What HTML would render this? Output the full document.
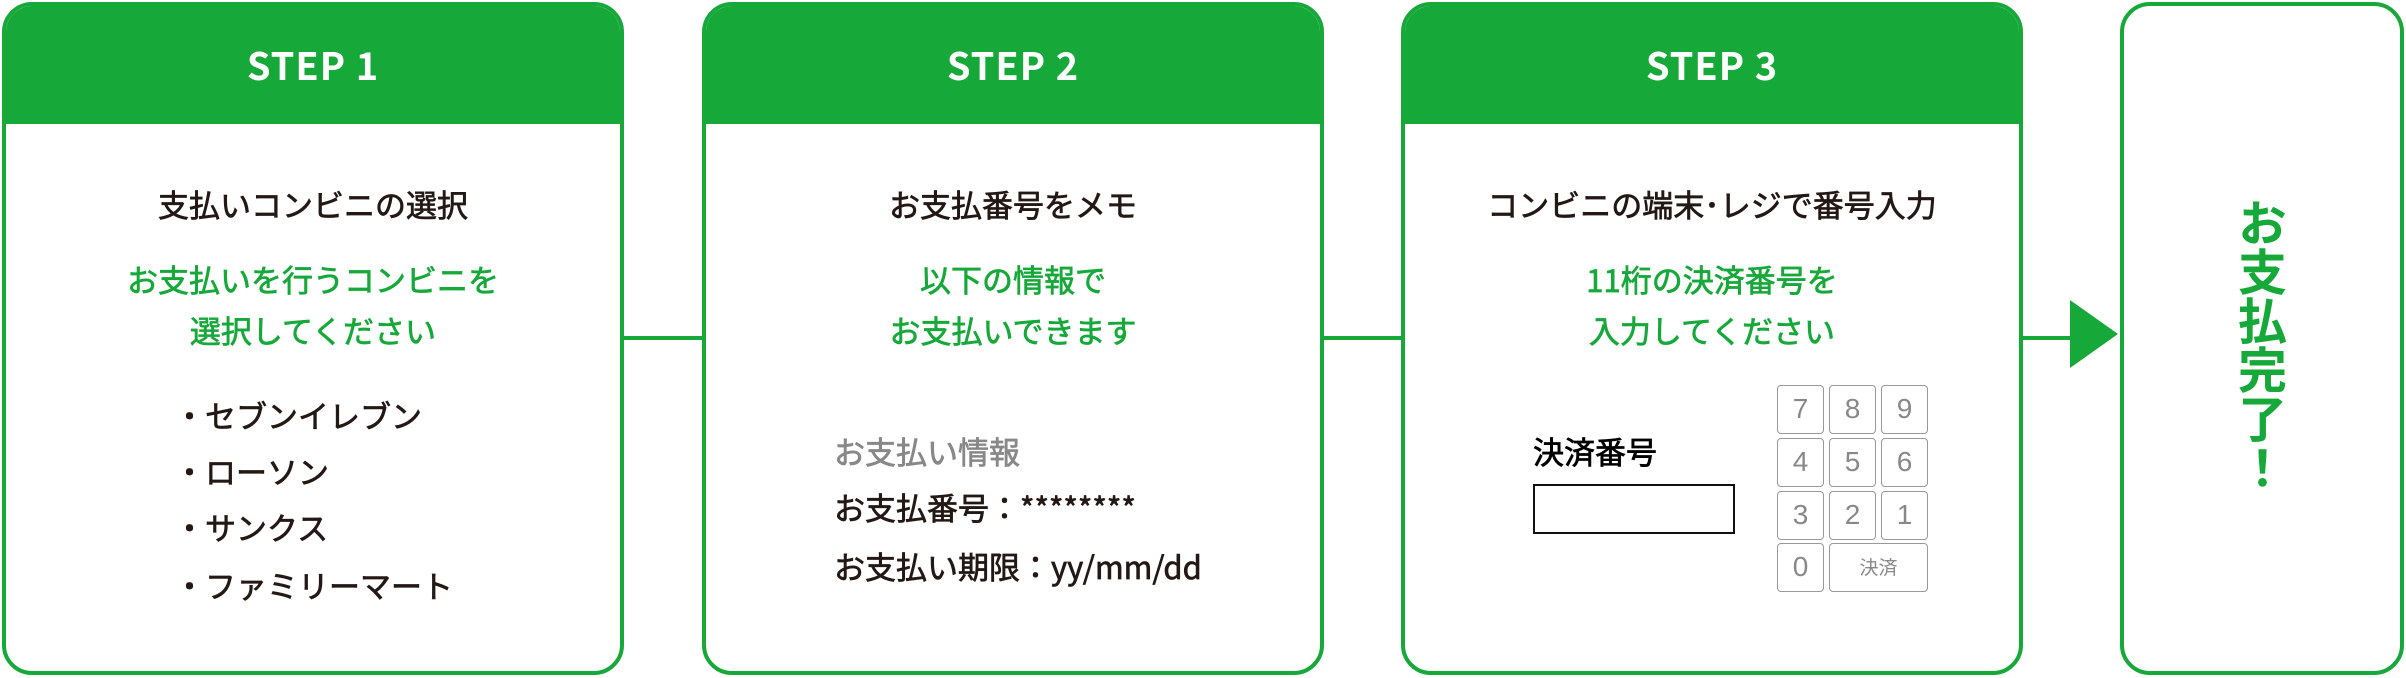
<!DOCTYPE html>
<html><head><meta charset="utf-8"><style>
*{margin:0;padding:0;box-sizing:border-box}
body{width:2406px;height:678px;background:#fff;position:relative;overflow:hidden;font-family:"Liberation Sans","Noto Sans CJK JP",sans-serif;}
.card{position:absolute;top:2px;height:673px;border:4px solid #17a83a;border-radius:30px;overflow:hidden;background:#fff}
.hd{position:absolute;left:0;right:0;top:0;height:118px;background:#17a83a;color:#fff;font-weight:bold;font-size:38px;text-align:center;line-height:116px;font-family:"Noto Sans CJK JP",sans-serif;letter-spacing:1px}
.t{position:absolute;white-space:nowrap;font-family:"Noto Sans CJK JP",sans-serif;font-size:31px;line-height:1;color:#231815;-webkit-text-stroke:0.7px currentColor}
.c{left:0;right:0;text-align:center}
.g{color:#17a83a}
.line{position:absolute;height:4px;background:#17a83a;top:336px}
.key{position:absolute;border:1.5px solid #999;border-radius:4px;background:#fff;color:#888;font-size:28px;text-align:center;font-family:"Liberation Sans",sans-serif}
</style></head><body>
<div class="line" style="left:620px;width:86px"></div>
<div class="line" style="left:1320px;width:86px"></div>
<div class="line" style="left:2019px;width:56px"></div>
<svg style="position:absolute;left:2070px;top:300px" width="52" height="70"><polygon points="0,0 48,34 0,68" fill="#17a83a"/></svg>

<div class="card" style="left:2px;width:622px">
<div class="hd">STEP 1</div>
<div class="t c" style="top:182px">支払いコンビニの選択</div>
<div class="t c g" style="top:257px">お支払いを行うコンビニを</div>
<div class="t c g" style="top:308px">選択してください</div>
<div class="t" style="left:168px;top:393px">・セブンイレブン</div>
<div class="t" style="left:168px;top:449px">・ローソン</div>
<div class="t" style="left:168px;top:505px">・サンクス</div>
<div class="t" style="left:168px;top:563px">・ファミリーマート</div>
</div>

<div class="card" style="left:702px;width:622px">
<div class="hd">STEP 2</div>
<div class="t c" style="top:182px">お支払番号をメモ</div>
<div class="t c g" style="top:257px">以下の情報で</div>
<div class="t c g" style="top:308px">お支払いできます</div>
<div class="t" style="left:128px;top:429px;color:#888">お支払い情報</div>
<div class="t" style="left:128px;top:485px">お支払番号：********</div>
<div class="t" style="left:128px;top:544px">お支払い期限：yy/mm/dd</div>
</div>

<div class="card" style="left:1401px;width:622px">
<div class="hd">STEP 3</div>
<div class="t c" style="top:182px">コンビニの端末･レジで番号入力</div>
<div class="t c g" style="top:257px">11桁の決済番号を</div>
<div class="t c g" style="top:308px">入力してください</div>
<div class="t" style="left:128px;top:429px;color:#000">決済番号</div>
<div style="position:absolute;left:128px;top:478px;width:202px;height:50px;border:2px solid #111"></div>
<div class="key" style="left:372px;top:379px;width:47px;height:49px;line-height:46px">7</div>
<div class="key" style="left:424px;top:379px;width:47px;height:49px;line-height:46px">8</div>
<div class="key" style="left:476px;top:379px;width:47px;height:49px;line-height:46px">9</div>
<div class="key" style="left:372px;top:432px;width:47px;height:49px;line-height:46px">4</div>
<div class="key" style="left:424px;top:432px;width:47px;height:49px;line-height:46px">5</div>
<div class="key" style="left:476px;top:432px;width:47px;height:49px;line-height:46px">6</div>
<div class="key" style="left:372px;top:485px;width:47px;height:49px;line-height:46px">3</div>
<div class="key" style="left:424px;top:485px;width:47px;height:49px;line-height:46px">2</div>
<div class="key" style="left:476px;top:485px;width:47px;height:49px;line-height:46px">1</div>
<div class="key" style="left:372px;top:537px;width:47px;height:49px;line-height:46px">0</div>
<div class="key" style="left:424px;top:537px;width:99px;height:49px;line-height:46px;font-size:19px;font-family:'Noto Sans CJK JP',sans-serif">決済</div>
</div>

<div class="card" style="left:2120px;width:284px">
<div class="t g" style="left:114px;top:192px;font-size:49px;font-weight:bold;-webkit-text-stroke:0;writing-mode:vertical-rl;line-height:1">お支払完了！</div>
</div>
</body></html>
